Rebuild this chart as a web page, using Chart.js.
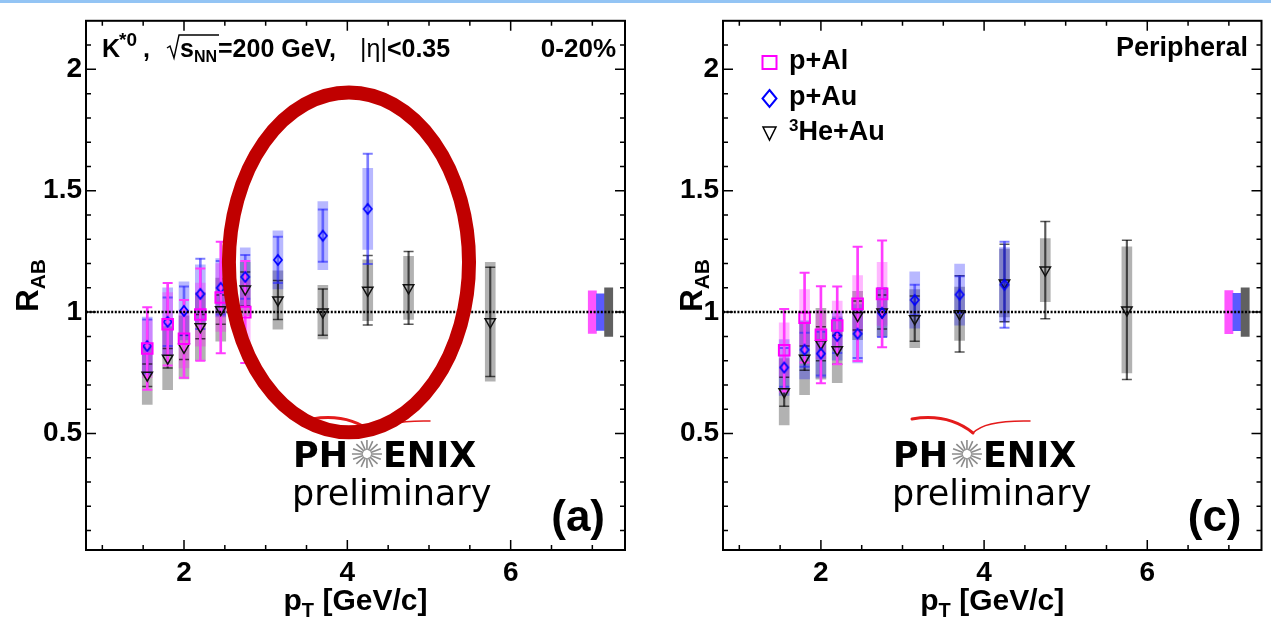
<!DOCTYPE html>
<html>
<head>
<meta charset="utf-8">
<script src="https://cdn.jsdelivr.net/npm/chart.js@4.4.0/dist/chart.umd.min.js"></script>
<style>
  html, body { margin: 0; padding: 0; background: #fff; }
  body { width: 1271px; height: 628px; position: relative; overflow: hidden; }
  #band { position: absolute; left: 0; top: 0; width: 1271px; height: 3px; background: #93c4f4; }
  .panel { position: absolute; top: 0; height: 628px; }
  #left { left: 0; width: 636px; }
  #right { left: 636px; width: 635px; }
</style>
</head>
<body>
<div id="band"></div>
<div class="panel" id="left"><canvas id="cLeft" width="636" height="628"></canvas></div>
<div class="panel" id="right"><canvas id="cRight" width="635" height="628"></canvas></div>
<script>
const pT = [1.55, 1.8, 2.0, 2.2, 2.45, 2.75, 3.15, 3.7, 4.25, 4.75, 5.75];
const xTickLabels = [2, 4, 6];
const yTickLabels = [0.5, 1, 1.5, 2];

// panel (a): 0-20%
const pAlCent = [0.85, 0.95, 0.89, 0.99, 1.06, 1.0];
const pAlCentStat = [0.17, 0.17, 0.16, 0.19, 0.23, 0.21];
const pAlCentSys = [0.12, 0.13, 0.12, 0.13, 0.14, 0.13];
const pAuCent = [0.86, 0.96, 1.005, 1.075, 1.10, 1.145, 1.215, 1.315, 1.425];
const pAuCentStat = [0.11, 0.1, 0.1, 0.145, 0.11, 0.09, 0.095, 0.108, 0.227];
const pAuCentSys = [0.12, 0.14, 0.12, 0.12, 0.12, 0.12, 0.12, 0.14, 0.167];
const heAuCent = [0.74, 0.81, 0.855, 0.94, 1.01, 1.095, 1.05, 1.0, 1.09, 1.10, 0.96];
const heAuCentStat = [0.046, 0.04, 0.05, 0.05, 0.06, 0.07, 0.08, 0.095, 0.143, 0.15, 0.225];
const heAuCentSys = [0.12, 0.13, 0.13, 0.14, 0.13, 0.11, 0.12, 0.11, 0.125, 0.13, 0.245];

// panel (c): peripheral
const pAlPeri = [0.843, 0.977, 0.907, 0.945, 1.034, 1.075];
const pAlPeriStat = [0.17, 0.185, 0.2, 0.16, 0.235, 0.22];
const pAlPeriSys = [0.113, 0.116, 0.1, 0.1, 0.116, 0.13];
const pAuPeri = [0.772, 0.845, 0.829, 0.902, 0.911, 0.997, 1.05, 1.072, 1.113];
const pAuPeriStat = [0.08, 0.07, 0.09, 0.07, 0.1, 0.1, 0.063, 0.076, 0.177];
const pAuPeriSys = [0.115, 0.12, 0.1, 0.1, 0.12, 0.1, 0.116, 0.126, 0.153];
const heAuPeri = [0.672, 0.81, 0.87, 0.845, 0.986, 1.0, 0.973, 0.993, 1.12, 1.173, 1.009];
const heAuPeriStat = [0.06, 0.05, 0.07, 0.06, 0.06, 0.07, 0.093, 0.157, 0.16, 0.2, 0.287];
const heAuPeriSys = [0.137, 0.15, 0.146, 0.136, 0.1, 0.1, 0.12, 0.11, 0.14, 0.13, 0.26];

// global normalisation boxes (p+Al, p+Au, 3He+Au)
const normX = [7.0, 7.1, 7.2];
const normCent = [0.088, 0.075, 0.1];
const normPeri = [0.089, 0.077, 0.1];

const FONT = '"Liberation Sans", Arial, Helvetica, sans-serif';
Chart.defaults.font.family = FONT;

const makeDiamond = (w, h, color, lw) => {
  const c = document.createElement('canvas');
  c.width = Math.ceil(w + lw * 2);
  c.height = Math.ceil(h + lw * 2);
  const g = c.getContext('2d');
  const cx = c.width / 2, cy = c.height / 2;
  g.strokeStyle = color;
  g.lineWidth = lw;
  g.beginPath();
  g.moveTo(cx, cy - h / 2);
  g.lineTo(cx + w / 2, cy);
  g.lineTo(cx, cy + h / 2);
  g.lineTo(cx - w / 2, cy);
  g.closePath();
  g.stroke();
  return c;
};
const diamondMarker = makeDiamond(8, 10, '#0000ff', 1.8);

const styles = {
  pAl: { box: 'rgba(255,0,255,0.28)', line: '#ff3cff', lw: 2, point: 'rect', radius: 7.5, rot: 0, color: '#ff00ff' },
  pAu: { box: 'rgba(0,0,255,0.28)', line: 'rgba(40,40,255,0.6)', lw: 2, point: diamondMarker, radius: 6, rot: 0, color: '#0000ff' },
  heAu: { box: 'rgba(0,0,0,0.3)', line: 'rgba(0,0,0,0.65)', lw: 1.5, point: 'triangle', radius: 6, rot: 180, color: '#111' }
};

const seriesDatasets = (values, stat, sys, st) => {
  const pts = values.map((v, i) => ({ x: pT[i], y: v }));
  return [
    {
      type: 'bar', grouped: false, order: 5, barThickness: 10, borderWidth: 0,
      backgroundColor: st.box,
      data: values.map((v, i) => ({ x: pT[i], y: [v - sys[i], v + sys[i]] }))
    },
    {
      type: 'bar', grouped: false, order: 3, barThickness: st.lw, borderWidth: 0,
      backgroundColor: st.line,
      data: values.map((v, i) => ({ x: pT[i], y: [v - stat[i], v + stat[i]] }))
    },
    {
      type: 'scatter', order: 3, pointStyle: 'line', pointRadius: 5,
      pointBorderColor: st.line, pointBorderWidth: st.lw,
      data: values.flatMap((v, i) => [{ x: pT[i], y: v - stat[i] }, { x: pT[i], y: v + stat[i] }])
    },
    {
      type: 'scatter', order: 1, pointStyle: st.point, pointRadius: st.radius, pointRotation: st.rot,
      pointBorderColor: st.color, pointBorderWidth: st.point === 'rect' ? 2 : 1.5,
      pointBackgroundColor: 'rgba(0,0,0,0)',
      data: pts
    }
  ];
};

const normDataset = (half) => ({
  type: 'bar', grouped: false, order: 6, barThickness: 8.2, borderWidth: 0,
  backgroundColor: ['#ff55ff', '#5a5aff', '#606060'],
  data: normX.map((x, i) => ({ x, y: [1 - half[i], 1 + half[i]] }))
});

// rich text: parts are [text, size, dy, weight]
const drawRich = (ctx, parts, x, y, align) => {
  let w = 0;
  parts.forEach(p => {
    ctx.font = `${p[3] || 'bold'} ${p[1]}px ${FONT}`;
    w += ctx.measureText(p[0]).width;
  });
  let cx = align === 'center' ? x - w / 2 : align === 'right' ? x - w : x;
  parts.forEach(p => {
    ctx.font = `${p[3] || 'bold'} ${p[1]}px ${FONT}`;
    ctx.fillText(p[0], cx, y + (p[2] || 0));
    cx += ctx.measureText(p[0]).width;
  });
  return w;
};

const drawLogo = (ctx, x0) => {
  ctx.save();
  ctx.fillStyle = '#000';
  ctx.textBaseline = 'alphabetic';
  ctx.font = 'bold 35px "DejaVu Sans", sans-serif';
  ctx.fillText('PH', x0, 467);
  const wPH = ctx.measureText('PH').width;
  const sx = x0 + wPH + 19, sy = 454;
  ctx.fillText('ENIX', x0 + wPH + 35, 467);
  ctx.strokeStyle = '#8c8c8c';
  ctx.lineWidth = 1.6;
  ctx.beginPath();
  for (let k = 0; k < 16; k++) {
    const a = k * Math.PI / 8;
    ctx.moveTo(sx + Math.cos(a) * 4, sy + Math.sin(a) * 4);
    ctx.lineTo(sx + Math.cos(a) * 15, sy + Math.sin(a) * 14);
  }
  ctx.stroke();
  ctx.font = '35px "DejaVu Sans", sans-serif';
  ctx.fillText('preliminary', x0 - 1, 505);
  ctx.strokeStyle = '#e41b1b';
  ctx.lineCap = 'round';
  ctx.lineWidth = 3;
  ctx.beginPath();
  ctx.moveTo(x0 + 19, 419);
  ctx.quadraticCurveTo(x0 + 55, 413, x0 + 80, 433);
  ctx.stroke();
  ctx.lineWidth = 1.5;
  ctx.beginPath();
  ctx.moveTo(x0 + 80, 433);
  ctx.quadraticCurveTo(x0 + 92, 420, x0 + 137, 421);
  ctx.stroke();
  ctx.restore();
};

const drawFrame = (chart) => {
  const { ctx, chartArea: a, scales: { x, y } } = chart;
  ctx.save();
  ctx.strokeStyle = '#000';
  // unity line
  ctx.lineWidth = 2.5;
  ctx.setLineDash([2, 1.6]);
  ctx.beginPath();
  ctx.moveTo(a.left, y.getPixelForValue(1));
  ctx.lineTo(a.right, y.getPixelForValue(1));
  ctx.stroke();
  ctx.setLineDash([]);
  ctx.lineWidth = 2;
  ctx.strokeRect(a.left, a.top, a.right - a.left, a.bottom - a.top);
  ctx.lineWidth = 1.5;
  ctx.beginPath();
  for (let k = 2; k <= 14; k++) {
    const v = k / 2;
    const px = x.getPixelForValue(v);
    const len = xTickLabels.includes(v) ? 10 : 5;
    ctx.moveTo(px, a.bottom); ctx.lineTo(px, a.bottom - len);
    ctx.moveTo(px, a.top); ctx.lineTo(px, a.top + len);
  }
  for (let k = 1; k <= 21; k++) {
    const py = y.getPixelForValue(k / 10);
    const len = k % 5 === 0 ? 10 : 5;
    ctx.moveTo(a.left, py); ctx.lineTo(a.left + len, py);
    ctx.moveTo(a.right, py); ctx.lineTo(a.right - len, py);
  }
  ctx.stroke();
  ctx.restore();
};

const panelDecor = {
  id: 'panelDecor',
  beforeDatasetsDraw(chart, args, opts) {
    drawLogo(chart.ctx, opts.logoX);
  },
  afterDatasetsDraw(chart, args, opts) {
    const { ctx, chartArea: a, scales: { x, y } } = chart;
    drawFrame(chart);
    ctx.save();
    ctx.fillStyle = '#000';
    ctx.textBaseline = 'alphabetic';
    // axis titles
    drawRich(ctx, [['p', 30], ['T', 20, 7], [' [GeV/c]', 30]], (a.left + a.right) / 2, 610, 'center');
    ctx.save();
    ctx.translate(opts.yTitleX, (a.top + a.bottom) / 2);
    ctx.rotate(-Math.PI / 2);
    drawRich(ctx, [['R', 31], ['AB', 21, 7]], 0, 0, 'center');
    ctx.restore();
    // panel tag
    ctx.font = `bold 44px ${FONT}`;
    ctx.textAlign = 'right';
    ctx.fillText(opts.tag, a.right - 20, 531);
    ctx.textAlign = 'left';
    if (opts.header) opts.header(ctx);
    ctx.restore();
    if (opts.ellipse) {
      const e = opts.ellipse;
      const cx = x.getPixelForValue(e.cx), cy = y.getPixelForValue(e.cy);
      const rx = x.getPixelForValue(e.cx + e.rx) - cx;
      const ry = cy - y.getPixelForValue(e.cy + e.ry);
      ctx.save();
      ctx.strokeStyle = '#c00000';
      ctx.lineWidth = 14;
      ctx.beginPath();
      ctx.ellipse(cx, cy, rx, ry, 0, 0, Math.PI * 2);
      ctx.stroke();
      ctx.restore();
    }
  }
};

const headerCentral = (ctx) => {
  const b = 57;
  drawRich(ctx, [['K', 25]], 102, b);
  drawRich(ctx, [['*0', 19]], 119, b - 11);
  drawRich(ctx, [[',', 25]], 143, b);
  ctx.save();
  ctx.strokeStyle = '#000';
  ctx.lineWidth = 1.4;
  ctx.beginPath();
  ctx.moveTo(167, b - 9);
  ctx.lineTo(170, b - 11);
  ctx.lineTo(174, b + 1);
  ctx.lineTo(179, b - 22);
  ctx.lineTo(219, b - 22);
  ctx.stroke();
  ctx.restore();
  drawRich(ctx, [['s', 25], ['NN', 16, 5]], 180, b);
  drawRich(ctx, [['=200 GeV,', 25]], 218, b);
  drawRich(ctx, [['|η|', 25, 0, 'normal'], ['<0.35', 25]], 360, b);
  drawRich(ctx, [['0-20%', 26]], 616, b, 'right');
};

const headerPeripheral = (ctx) => {
  drawRich(ctx, [['Peripheral', 27]], 612, 56, 'right');
  const mx = 133.5, tx = 153;
  ctx.save();
  ctx.strokeStyle = '#ff00ff';
  ctx.lineWidth = 2;
  ctx.strokeRect(mx - 7, 62.5 - 6.5, 14, 13);
  ctx.strokeStyle = '#0000ff';
  ctx.beginPath();
  ctx.moveTo(mx, 90); ctx.lineTo(mx + 7, 98.5); ctx.lineTo(mx, 107); ctx.lineTo(mx - 7, 98.5);
  ctx.closePath(); ctx.stroke();
  ctx.strokeStyle = '#000';
  ctx.lineWidth = 1.5;
  ctx.beginPath();
  ctx.moveTo(mx - 6.5, 127); ctx.lineTo(mx + 6.5, 127); ctx.lineTo(mx, 140);
  ctx.closePath(); ctx.stroke();
  ctx.restore();
  drawRich(ctx, [['p+Al', 27]], tx, 69);
  drawRich(ctx, [['p+Au', 27]], tx, 105);
  drawRich(ctx, [['3', 17, 1], ['He+Au', 27, 10]], tx, 130);
};

const buildChart = (id, cfg) => new Chart(document.getElementById(id), {
  type: 'scatter',
  data: {
    datasets: [
      ...seriesDatasets(cfg.pAl, cfg.pAlStat, cfg.pAlSys, styles.pAl),
      ...seriesDatasets(cfg.pAu, cfg.pAuStat, cfg.pAuSys, styles.pAu),
      ...seriesDatasets(cfg.heAu, cfg.heAuStat, cfg.heAuSys, styles.heAu),
      normDataset(cfg.norm)
    ]
  },
  options: {
    responsive: false,
    animation: false,
    events: [],
    layout: { padding: { top: 15, right: cfg.padRight, left: 0, bottom: 0 } },
    plugins: {
      legend: { display: false },
      tooltip: { enabled: false },
      panelDecor: cfg.decor
    },
    scales: {
      x: {
        type: 'linear', min: 0.8, max: 7.4, offset: false,
        grid: { display: false, drawTicks: false },
        border: { display: false },
        afterBuildTicks: s => { s.ticks = xTickLabels.map(v => ({ value: v })); },
        afterFit: s => { s.height = 78; },
        ticks: {
          color: '#000', padding: 6, maxRotation: 0, autoSkip: false,
          font: { size: 28, weight: 'bold' },
          callback: v => String(v)
        }
      },
      y: {
        type: 'linear', min: 0.02, max: 2.2,
        grid: { display: false, drawTicks: false },
        border: { display: false },
        afterBuildTicks: s => { s.ticks = yTickLabels.map(v => ({ value: v })); },
        afterFit: s => { s.width = cfg.yWidth; },
        ticks: {
          color: '#000', padding: 4, autoSkip: false,
          font: { size: 28, weight: 'bold' },
          callback: v => String(v)
        }
      }
    }
  },
  plugins: [panelDecor]
});

buildChart('cLeft', {
  pAl: pAlCent, pAlStat: pAlCentStat, pAlSys: pAlCentSys,
  pAu: pAuCent, pAuStat: pAuCentStat, pAuSys: pAuCentSys,
  heAu: heAuCent, heAuStat: heAuCentStat, heAuSys: heAuCentSys,
  norm: normCent, padRight: 11, yWidth: 86,
  decor: {
    logoX: 293, yTitleX: 38, tag: '(a)', header: headerCentral,
    ellipse: { cx: 4.02, cy: 1.205, rx: 1.47, ry: 0.70 }
  }
});

buildChart('cRight', {
  pAl: pAlPeri, pAlStat: pAlPeriStat, pAlSys: pAlPeriSys,
  pAu: pAuPeri, pAuStat: pAuPeriStat, pAuSys: pAuPeriSys,
  heAu: heAuPeri, heAuStat: heAuPeriStat, heAuSys: heAuPeriSys,
  norm: normPeri, padRight: 9, yWidth: 87,
  decor: { logoX: 257, yTitleX: 66, tag: '(c)', header: headerPeripheral }
});
</script>
</body>
</html>
